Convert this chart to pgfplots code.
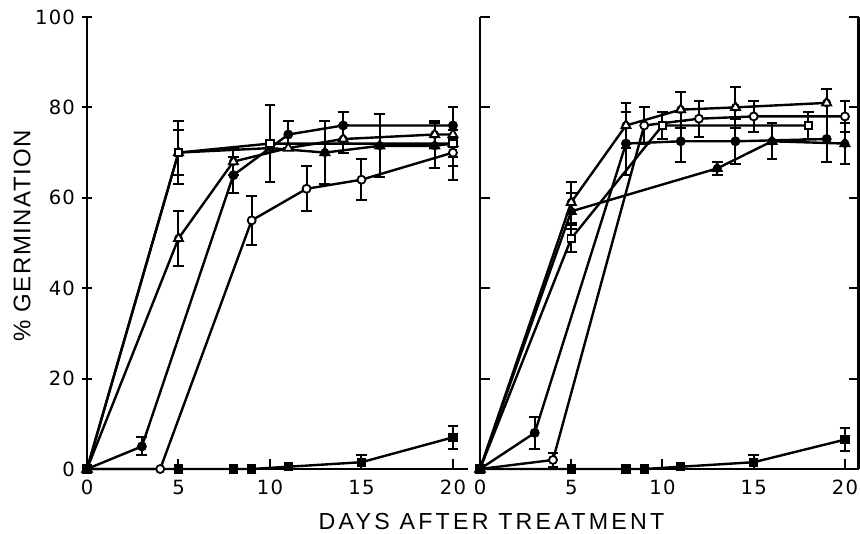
\documentclass[border=0pt]{standalone}
\usepackage{fontspec}
\setmainfont{Liberation Sans}
\newfontfamily\tickfont[LetterSpace=6]{DejaVu Sans}
\newfontfamily\xlabfont[LetterSpace=14]{Liberation Sans}
\newfontfamily\ylabfont[LetterSpace=6]{Liberation Sans}
\usepackage{pgfplots}
\pgfplotsset{compat=1.18}
\pgfplotsset{
 panel/.style={
  scale only axis, height=226pt,
  ymin=0, ymax=100, xmin=0,
  axis x line=bottom,
  xtick={0,5,10,15,20}, ytick={0,20,40,60,80,100},
  tick align=inside, major tick length=5pt,
  every tick/.style={black, line width=1pt},
  /pgf/number format/assume math mode=true,
  tick label style={font=\tickfont\fontsize{9.8}{11}\selectfont},
  xticklabel style={yshift=-2pt},
  clip=false,
 },
 lines/.style={axis line style={-, line width=1.3pt, black}, x axis line style={-}, y axis line style={-}},
 ebar/.style={forget plot, only marks, mark=none, error bars/.cd, y dir=both, y explicit,
   error bar style={draw=black, line width=1pt, solid},
   error mark options={draw=black, mark size=2.7pt, line width=1pt, rotate=90}},
 s/.style={black, line width=1.2pt},
 fc/.style={s, mark=*, mark size=2pt, mark options={fill=black, line width=0.9pt}},
 oc/.style={s, mark=*, mark size=2pt, mark options={fill=white, line width=0.9pt}},
 ot/.style={s, mark=triangle*, mark size=2.6pt, mark options={fill=white, line width=0.9pt}},
 ft/.style={s, mark=triangle*, mark size=2.6pt, mark options={fill=black, line width=0.9pt}},
 os/.style={s, mark=square*, mark size=1.9pt, mark options={fill=white, line width=0.9pt}},
 fs/.style={s, mark=square*, mark size=1.9pt, mark options={fill=black, line width=0.9pt}},
}
\begin{document}
\begin{tikzpicture}
% ---------------- left panel ----------------
\begin{axis}[panel, at={(43.5pt,32.5pt)}, anchor=south west,
  width=190.3pt, xmax=20.8, axis y line=left, lines]
% error bars
\addplot[ebar] coordinates {(3,5) +- (0,2) (8,65) +- (0,4) (11,74) +- (0,3) (14,76) +- (0,3) (20,76) +- (0,4)};
\addplot[ebar] coordinates {(5,51) +- (0,6) (8,68) +- (0,3) (14,73) +- (0,3) (19,74) +- (0,3)};
\addplot[ebar] coordinates {(5,70) +- (0,7) (10,72) +- (0,8.5) (20,72) +- (0,3)};
\addplot[ebar] coordinates {(5,70) +- (0,5) (13,70) +- (0,7) (16,71.5) +- (0,7) (19,71.5) +- (0,5) (20,72) +- (0,8)};
\addplot[ebar] coordinates {(9,55) +- (0,5.5) (12,62) +- (0,5) (15,64) +- (0,4.5) (20,70) +- (0,3)};
\addplot[ebar] coordinates {(15,1.5) +- (0,1.5) (20,7) +- (0,2.5)};
% series
\addplot[oc] coordinates {(0,0) (4,0) (9,55) (12,62) (15,64) (20,70)};
\addplot[ot] coordinates {(0,0) (5,51) (8,68) (11,71) (14,73) (19,74) (20,74)};
\addplot[ft] coordinates {(0,0) (5,70) (10,71) (13,70) (16,71.5) (19,71.5) (20,72)};
\addplot[os] coordinates {(0,0) (5,70) (10,72) (20,72)};
\addplot[fc] coordinates {(0,0) (3,5) (8,65) (11,74) (14,76) (20,76)};
\addplot[fs] coordinates {(0,0) (5,0) (8,0) (9,0) (11,0.5) (15,1.5) (20,7)};
\end{axis}
% ---------------- right panel ----------------
\begin{axis}[panel, at={(240pt,32.5pt)}, anchor=south west,
  width=189.3pt, xmax=20.75, axis y line=box, lines, yticklabels={}]
\addplot[ebar] coordinates {(3,8) +- (0,3.5) (8,72) +- (0,7) (11,72.5) +- (0,4.5) (14,72.5) +- (0,5) (19,73) +- (0,5)};
\addplot[ebar] coordinates {(4,2) +- (0,1.5) (9,76) +- (0,4) (12,77.5) +- (0,4) (15,78) +- (0,3.5) (20,78) +- (0,3.5)};
\addplot[ebar] coordinates {(5,59) +- (0,4.5) (8,76) +- (0,5) (11,79.5) +- (0,4) (14,80) +- (0,4.5) (19,81) +- (0,3)};
\addplot[ebar] coordinates {(5,51) +- (0,3) (10,76) +- (0,3) (18,76) +- (0,3)};
\addplot[ebar] coordinates {(5,57) +- (0,4) (13,66.5) +- (0,1.5) (16,72.5) +- (0,4) (20,72) +- (0,4.5)};
\addplot[ebar] coordinates {(15,1.5) +- (0,1.5) (20,6.5) +- (0,2.5)};
\addplot[oc] coordinates {(0,0) (4,2) (9,76) (12,77.5) (15,78) (20,78)};
\addplot[ot] coordinates {(0,0) (5,59) (8,76) (11,79.5) (14,80) (19,81)};
\addplot[os] coordinates {(0,0) (5,51) (10,76) (18,76)};
\addplot[ft] coordinates {(0,0) (5,57) (13,66.5) (16,72.5) (20,72)};
\addplot[fc] coordinates {(0,0) (3,8) (8,72) (11,72.5) (14,72.5) (19,73)};
\addplot[fs] coordinates {(0,0) (5,0) (8,0) (9,0) (11,0.5) (15,1.5) (20,6.5)};
\end{axis}
% ---------------- labels ----------------
\node[anchor=base, inner sep=0pt] at (245.75pt,2pt) {\xlabfont\fontsize{11.6}{14}\selectfont DAYS AFTER TREATMENT};
\node[rotate=90, anchor=center, inner sep=0pt] at (11pt,149pt) {\ylabfont\fontsize{12}{14}\selectfont \% GERMINATION};
\pgfresetboundingbox
\path[use as bounding box] (0,0) rectangle (430pt,267pt);
\end{tikzpicture}
\end{document}
